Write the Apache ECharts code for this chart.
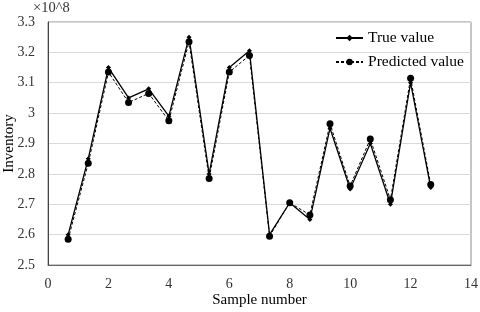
<!DOCTYPE html>
<html><head><meta charset="utf-8">
<script src="https://cdn.jsdelivr.net/npm/echarts@6/dist/echarts.min.js"></script>
<style>html,body{margin:0;padding:0;background:#fff}#c{width:480px;height:312px}</style>
</head><body><div id="c"></div>
<script>
const sampleX = [0.667, 1.333, 2, 2.667, 3.333, 4, 4.667, 5.333, 6, 6.667, 7.333, 8, 8.667, 9.333, 10, 10.667, 11.333, 12, 12.667];
const trueValues = [2.60, 2.85, 3.15, 3.05, 3.08, 2.99, 3.25, 2.80, 3.15, 3.205, 2.60, 2.705, 2.65, 2.95, 2.75, 2.90, 2.70, 3.10, 2.755];
const predictedValues = [2.585, 2.835, 3.135, 3.035, 3.065, 2.975, 3.235, 2.785, 3.135, 3.19, 2.595, 2.705, 2.665, 2.965, 2.76, 2.915, 2.715, 3.115, 2.765];
const seriesNames = ['True value', 'Predicted value'];
const xTitle = 'Sample number';
const yTitle = 'Inventory';
const yUnit = '×10^8';

const font = 'Liberation Serif';
const chart = echarts.init(document.getElementById('c'), null, {renderer: 'canvas'});
const pair = (xs, ys) => xs.map((x, i) => [x, ys[i]]);
chart.setOption({
  animation: false,
  textStyle: {fontFamily: font},
  grid: {left: 48, right: 9, top: 22, bottom: 47, outerBoundsMode: 'none', containLabel: false,
         show: true, borderColor: '#8c8c8c', borderWidth: 1},
  legend: {
    orient: 'vertical', right: 11, top: 25, itemGap: 8, itemWidth: 27, itemHeight: 8,
    textStyle: {fontFamily: font, fontSize: 15.5, color: '#000'},
    data: seriesNames
  },
  graphic: [{type: 'text', left: 33, top: 1, style: {text: yUnit, font: '14.5px ' + font, fill: '#333'}}],
  xAxis: {
    type: 'value', min: 0, max: 14, interval: 2,
    name: xTitle, nameLocation: 'middle', nameGap: 28, nameMoveOverlap: false,
    nameTextStyle: {fontFamily: font, fontSize: 15, color: '#000'},
    axisLine: {show: true, lineStyle: {color: '#666'}},
    axisTick: {show: false},
    splitLine: {show: false},
    axisLabel: {fontFamily: font, fontSize: 14, color: '#333', margin: 12}
  },
  yAxis: {
    type: 'value', min: 2.5, max: 3.3, interval: 0.1,
    name: yTitle, nameLocation: 'middle', nameGap: 31, nameRotate: 90, nameMoveOverlap: false,
    nameTextStyle: {fontFamily: font, fontSize: 15, color: '#000'},
    axisLine: {show: true, lineStyle: {color: '#444'}},
    axisTick: {show: false},
    splitLine: {show: true, lineStyle: {color: '#d9d9d9', width: 1}},
    axisLabel: {fontFamily: font, fontSize: 14, color: '#333', margin: 13,
      formatter: v => { const r = Math.round(v * 10) / 10; return Math.abs(r - Math.round(r)) < 1e-9 ? String(Math.round(r)) : r.toFixed(1); }}
  },
  series: [
    {name: seriesNames[0], type: 'line', data: pair(sampleX, trueValues),
     symbol: 'diamond', symbolSize: 5, color: '#000',
     lineStyle: {color: '#000', width: 1.3, type: 'solid'},
     itemStyle: {color: '#000'}, z: 3},
    {name: seriesNames[1], type: 'line', data: pair(sampleX, predictedValues),
     symbol: 'circle', symbolSize: 7, color: '#000',
     lineStyle: {color: '#000', width: 1, type: [3, 2]},
     itemStyle: {color: '#000'}, z: 2}
  ]
});
</script></body></html>
